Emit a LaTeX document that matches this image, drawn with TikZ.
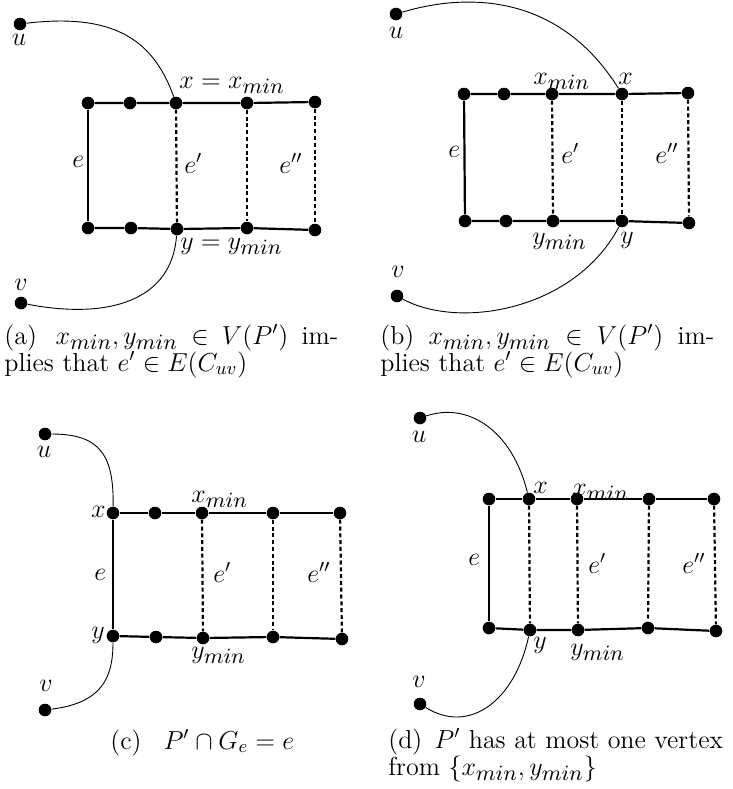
\RequirePackage{fix-cm}
\documentclass[tikz,border=0pt]{standalone}
\usepackage{graphicx}
\newcommand\mn{_{\scalebox{1.2}{$\scriptstyle min$}}}
\begin{document}
\begin{tikzpicture}[x=0.5pt,y=-0.5pt,
  dot/.style={circle,fill=black,inner sep=0pt,minimum size=6.3pt},
  solidedge/.style={line width=1.1pt},
  rung/.style={line width=1.1pt,dash pattern=on 2pt off 1.4pt},
  route/.style={line width=0.45pt},
  lab/.style={font=\fontsize{13}{14}\selectfont,inner sep=0pt,anchor=base west},
  vlab/.style={font=\fontsize{13}{14}\selectfont,inner sep=0pt},
  captext/.style={font=\fontsize{13}{13}\selectfont,inner sep=0pt,anchor=base west}]
\useasboundingbox (0,0) rectangle (733,789);

% ---------------- panel (a)
\node[dot] (au) at (20,24) {};
\node[dot] (av) at (21,303) {};
\node[dot] (at1) at (88,103) {};
\node[dot] (at2) at (130,103) {};
\node[dot] (at3) at (176,103) {};
\node[dot] (at4) at (247,103) {};
\node[dot] (at5) at (315,102) {};
\node[dot] (ab1) at (88,228) {};
\node[dot] (ab2) at (131,228) {};
\node[dot] (ab3) at (177,229) {};
\node[dot] (ab4) at (247,228) {};
\node[dot] (ab5) at (315,230) {};
\draw[solidedge] (at1) -- (at2) -- (at3) -- (at4) -- (at5);
\draw[solidedge] (ab1) -- (ab2) -- (ab3) -- (ab4) -- (ab5);
\draw[solidedge] (at1) -- (ab1);
\draw[rung] (at3) -- (ab3);
\draw[rung] (at4) -- (ab4);
\draw[rung] (at5) -- (ab5);
\draw[route] (au) .. controls (120,12) and (155,45) .. (at3);
\draw[route] (av) .. controls (110,320) and (172,300) .. (ab3);
\node[lab] (axl) at (179,88) {$x = x\mn$};
\node[lab] (ayl) at (180,249) {$y = y\mn$};
\node[vlab] (aul) at (19,40) {$u$};
\node[vlab] (avl) at (21,285) {$v$};
\node[lab] (ae) at (72,167) {$e$};
\node[lab] (ae1) at (184,173) {$e'$};
\node[lab] (ae2) at (279,173) {$e''$};

% ---------------- panel (b)
\node[dot] (bu) at (396,14) {};
\node[dot] (bv) at (397,296) {};
\node[dot] (bt1) at (464,94) {};
\node[dot] (bt2) at (504,94) {};
\node[dot] (bt3) at (552,94) {};
\node[dot] (bt4) at (622,94) {};
\node[dot] (bt5) at (688,93) {};
\node[dot] (bb1) at (465,221) {};
\node[dot] (bb2) at (506,221) {};
\node[dot] (bb3) at (553,221) {};
\node[dot] (bb4) at (622,221) {};
\node[dot] (bb5) at (689,223) {};
\draw[solidedge] (bt1) -- (bt2) -- (bt3) -- (bt4) -- (bt5);
\draw[solidedge] (bb1) -- (bb2) -- (bb3) -- (bb4) -- (bb5);
\draw[solidedge] (bt1) -- (bb1);
\draw[rung] (bt3) -- (bb3);
\draw[rung] (bt4) -- (bb4);
\draw[rung] (bt5) -- (bb5);
\draw[route] (bu) .. controls (470,-8) and (560,-5) .. (bt4);
\draw[route] (bv) .. controls (460,330) and (575,310) .. (bb4);
\node[lab] (bxml) at (533,84) {$x\mn$};
\node[lab] (bxl) at (618,84) {$x$};
\node[lab] (byml) at (532,244) {$y\mn$};
\node[lab] (byl) at (620,243) {$y$};
\node[vlab] (bul) at (396,33) {$u$};
\node[vlab] (bvl) at (398,272) {$v$};
\node[lab] (be) at (448,157) {$e$};
\node[lab] (be1) at (561,163) {$e'$};
\node[lab] (be2) at (655,163) {$e''$};

% ---------------- panel (c)
\node[dot] (cu) at (45,434) {};
\node[dot] (cv) at (45,710) {};
\node[dot] (ct1) at (113,513) {};
\node[dot] (ct2) at (155,513) {};
\node[dot] (ct3) at (202,513) {};
\node[dot] (ct4) at (273,513) {};
\node[dot] (ct5) at (340,513) {};
\node[dot] (cb1) at (113,636) {};
\node[dot] (cb2) at (156,637) {};
\node[dot] (cb3) at (203,638) {};
\node[dot] (cb4) at (273,637) {};
\node[dot] (cb5) at (342,639) {};
\draw[solidedge] (ct1) -- (ct2) -- (ct3) -- (ct4) -- (ct5);
\draw[solidedge] (cb1) -- (cb2) -- (cb3) -- (cb4) -- (cb5);
\draw[solidedge] (ct1) -- (cb1);
\draw[rung] (ct3) -- (cb3);
\draw[rung] (ct4) -- (cb4);
\draw[rung] (ct5) -- (cb5);
\draw[route] (cu) .. controls (100,434) and (114,455) .. (ct1);
\draw[route] (cv) .. controls (100,703) and (113,680) .. (cb1);
\node[lab,anchor=base east] (cxl) at (106,517) {$x$};
\node[lab,anchor=base east] (cyl) at (105,638) {$y$};
\node[lab] (cxml) at (191,502) {$x\mn$};
\node[lab] (cyml) at (191,658) {$y\mn$};
\node[vlab] (cul) at (44,452) {$u$};
\node[vlab] (cvl) at (46,686) {$v$};
\node[lab] (ce) at (94,580) {$e$};
\node[lab] (ce1) at (213,582) {$e'$};
\node[lab] (ce2) at (307,582) {$e''$};

% ---------------- panel (d)
\node[dot] (du) at (420,418) {};
\node[dot] (dv) at (420,704) {};
\node[dot] (dt1) at (489,499) {};
\node[dot] (dt2) at (529,499) {};
\node[dot] (dt3) at (577,499) {};
\node[dot] (dt4) at (649,499) {};
\node[dot] (dt5) at (714,499) {};
\node[dot] (db1) at (489,628) {};
\node[dot] (db2) at (530,630) {};
\node[dot] (db3) at (578,630) {};
\node[dot] (db4) at (648,628) {};
\node[dot] (db5) at (716,631) {};
\draw[solidedge] (dt1) -- (dt2) -- (dt3) -- (dt4) -- (dt5);
\draw[solidedge] (db1) -- (db2) -- (db3) -- (db4) -- (db5);
\draw[solidedge] (dt1) -- (db1);
\draw[rung] (dt2) -- (db2);
\draw[rung] (dt3) -- (db3);
\draw[rung] (dt4) -- (db4);
\draw[rung] (dt5) -- (db5);
\draw[route] (du) .. controls (468,402) and (512,430) .. (dt2);
\draw[route] (dv) .. controls (470,735) and (515,700) .. (db2);
\node[lab] (dxl) at (533,493) {$x$};
\node[lab] (dxml) at (572,495) {$x\mn$};
\node[lab] (dyl) at (533,648) {$y$};
\node[lab] (dyml) at (570,655) {$y\mn$};
\node[vlab] (dul) at (419,437) {$u$};
\node[vlab] (dvl) at (419,682) {$v$};
\node[lab] (de) at (468,565) {$e$};
\node[lab] (de1) at (588,573) {$e'$};
\node[lab] (de2) at (682,573) {$e''$};

% ---------------- captions
\node[captext] (capa1) at (4,344) {\hbox to 167pt{(a)\hspace{\stretch{1.4}}$x\mn,y\mn$\hfill$\in$\hfill$V(P')$\hfill im-}};
\node[captext] (capa2) at (4,371) {plies that $e'\in E(C_{uv})$};
\node[captext] (capb1) at (380,344) {\hbox to 167pt{(b)\hfill$x\mn,y\mn$\hfill$\in$\hfill$V(P')$\hfill im-}};
\node[captext] (capb2) at (380,371) {plies that $e'\in E(C_{uv})$};
\node[captext] (capc) at (110,749) {(c)\hspace{11pt}$P'\cap G_e=e$};
\node[captext] (capd1) at (388,748) {(d)\hspace{6pt}$P'$ has at most one vertex};
\node[captext] (capd2) at (388,775) {from $\{x\mn,y\mn\}$};
\end{tikzpicture}
\end{document}
